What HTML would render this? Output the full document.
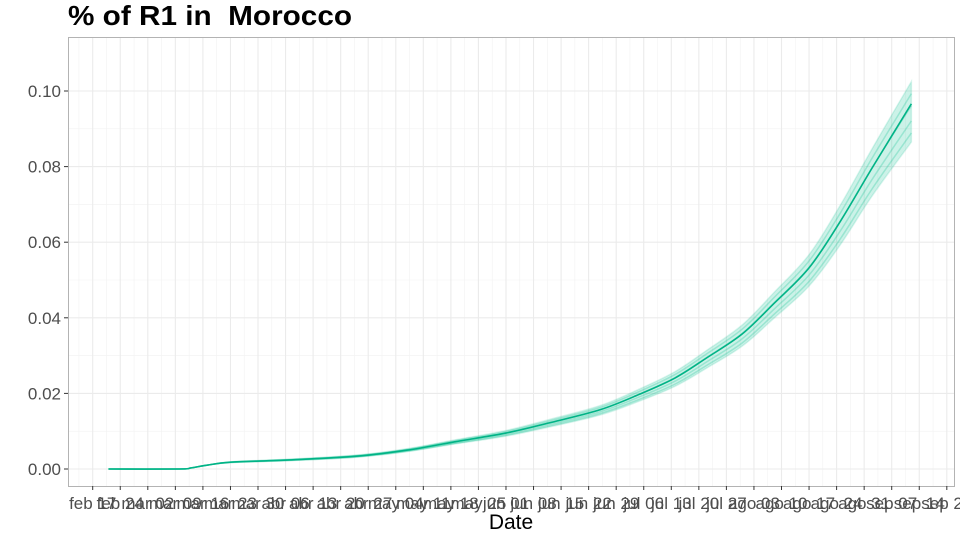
<!DOCTYPE html>
<html><head><meta charset="utf-8"><style>
body{margin:0;background:#fff}
svg{display:block;font-family:"Liberation Sans",sans-serif}
</style></head><body>
<svg id="chart" width="960" height="540" viewBox="0 0 960 540" xmlns="http://www.w3.org/2000/svg">
<text x="68" y="25" font-size="28" font-weight="bold" fill="#000" style="white-space:pre" textLength="284" lengthAdjust="spacingAndGlyphs">% of R1 in  Morocco</text>
<g id="grid"></g>
<g id="marks"></g>
<rect x="68.5" y="37.5" width="886" height="449" fill="none" stroke="#b3b3b3" stroke-width="1"/>
<g id="axes"></g>
<text x="511" y="529" font-size="21" text-anchor="middle" fill="#000">Date</text>
</svg>
<script>
const dayOffsets = [4, 22, 25, 29, 35, 50, 67, 80, 92, 105, 116, 129, 139, 148, 156, 165, 173, 182, 190, 198, 208];
const medianValues = [0, 0, 0.0003, 0.001, 0.0018, 0.0024, 0.0034, 0.005, 0.0072, 0.0095, 0.0122, 0.0157, 0.0198, 0.0241, 0.0294, 0.0357, 0.0437, 0.0532, 0.0656, 0.0796, 0.0966];
const lowerValues = [0, 0, 0.0003, 0.001, 0.0017, 0.0022, 0.0031, 0.0046, 0.0066, 0.0087, 0.0111, 0.0143, 0.018, 0.0219, 0.0267, 0.0325, 0.0398, 0.0484, 0.0594, 0.0722, 0.0865];
const upperValues = [0, 0, 0.0003, 0.001, 0.0019, 0.0026, 0.0037, 0.0054, 0.0077, 0.0102, 0.0131, 0.0168, 0.0212, 0.0258, 0.0314, 0.0381, 0.0466, 0.0567, 0.0699, 0.0847, 0.1025];
const yTicks = [0, 0.02, 0.04, 0.06, 0.08, 0.10];
const yTickLabels = ["0.00", "0.02", "0.04", "0.06", "0.08", "0.10"];
const xTickWeeks = 32;
const monthNames = ["ene","feb","mar","abr","may","jun","jul","ago","sep","oct","nov","dic"];

const NS = "http://www.w3.org/2000/svg";
const x = d => 92.7 + d * 3.936;
const y = v => 469 - v * 3780;
function mk(tag, attrs, parent){const e=document.createElementNS(NS,tag);for(const k in attrs)e.setAttribute(k,attrs[k]);parent.appendChild(e);return e;}
function smooth(p){let s='M'+p[0][0]+','+p[0][1];
  for(let i=0;i<p.length-1;i++){const p0=p[Math.max(i-1,0)],p1=p[i],p2=p[i+1],p3=p[Math.min(i+2,p.length-1)];
    s+=' C'+(p1[0]+(p2[0]-p0[0])/6)+','+(p1[1]+(p2[1]-p0[1])/6)+' '+(p2[0]-(p3[0]-p1[0])/6)+','+(p2[1]-(p3[1]-p1[1])/6)+' '+p2[0]+','+p2[1];}
  return s;}
const grid=document.getElementById('grid'), marks=document.getElementById('marks'), axes=document.getElementById('axes');
mk('rect',{x:68,y:37,width:886,height:449,fill:'#fff'},grid);
for(let v=-0.01; v<=0.11; v+=0.02){const yy=y(v); if(yy<37||yy>486)continue;
  const l=mk('line',{x1:68,x2:954,y1:yy,y2:yy,stroke:'#f2f2f2','stroke-width':0.6},grid);
  
  }
for(let w=-1; w<xTickWeeks; w++){const xx=x(w*7+3.5); if(xx<68||xx>954)continue;
  const l=mk('line',{x1:xx,x2:xx,y1:37,y2:486,stroke:'#f2f2f2','stroke-width':0.6},grid);
  
  }
yTicks.forEach((v,i)=>{const yy=y(v);
  const l=mk('line',{x1:68,x2:954,y1:yy,y2:yy,stroke:'#ebebeb','stroke-width':1.1},grid);
  
  
  mk('line',{x1:64,x2:68,y1:yy,y2:yy,stroke:'#333','stroke-width':1},axes);
  const t=mk('text',{x:61,y:yy+6,'font-size':17,'text-anchor':'end',fill:'#4d4d4d'},axes);
  t.textContent=yTickLabels[i];
  
  });
const base=new Date(2020,1,17);
for(let w=0; w<xTickWeeks; w++){const xx=x(w*7);
  const l=mk('line',{x1:xx,x2:xx,y1:37,y2:486,stroke:'#ebebeb','stroke-width':1.1},grid);
  
  
  mk('line',{x1:xx,x2:xx,y1:486,y2:490,stroke:'#333','stroke-width':1},axes);
  const dt=new Date(base.getTime()+w*7*86400000);
  const t=mk('text',{x:xx,y:509,'font-size':17,'text-anchor':'middle',fill:'#4d4d4d'},axes);
  t.textContent=monthNames[dt.getMonth()]+" "+String(dt.getDate()).padStart(2,'0');
  
  }
// band
const up=dayOffsets.map((d,i)=>[x(d),y(upperValues[i])]);
const lo=dayOffsets.map((d,i)=>[x(d),y(lowerValues[i])]).reverse();
const bandPath=smooth(up)+' L'+smooth(lo).slice(1)+' Z';
const band=mk('path',{d:bandPath,fill:'#00BE8C','fill-opacity':0.2,stroke:'#00BE8C','stroke-opacity':0.15,'stroke-width':1.5},marks);


[0.15,0.35,0.6,0.8].forEach(f=>{
  const p=dayOffsets.map((d,i)=>[x(d),y(lowerValues[i]+(upperValues[i]-lowerValues[i])*f)]);
  const l=mk('path',{d:smooth(p),fill:'none',stroke:'#00BE8C','stroke-opacity':0.25,'stroke-width':1.5},marks);
  
  });
const med=mk('path',{d:smooth(dayOffsets.map((d,i)=>[x(d),y(medianValues[i])])),fill:'none',stroke:'#00B386','stroke-width':1.6,'stroke-linejoin':'round'},marks);


</script>
</body></html>
